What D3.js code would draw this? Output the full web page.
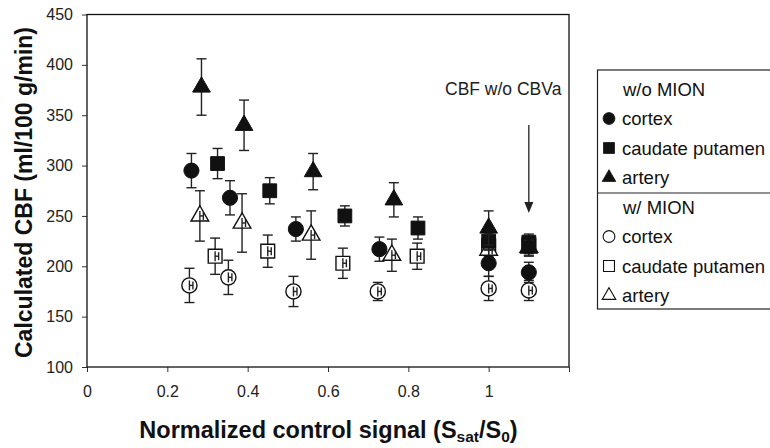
<!DOCTYPE html>
<html>
<head>
<meta charset="utf-8">
<script src="https://d3js.org/d3.v7.min.js"></script>
<style>
  body { margin: 0; background: #fff; }
  svg { display: block; font-family: "Liberation Sans", Arial, sans-serif; }
  .tick line { stroke: #333; }
  .tick text { font-size: 16px; fill: #222; }
</style>
</head>
<body>
<svg id="chart" width="770" height="448"></svg>
<script>
// x ticks
const xTicks = [0, 0.2, 0.4, 0.6, 0.8, 1, 1.2];
const xTickLabels = ["0", "0.2", "0.4", "0.6", "0.8", "1", ""];
const yTicks = [100, 150, 200, 250, 300, 350, 400, 450];

// w/o MION (filled markers)
const cortexX = [0.26, 0.356, 0.52, 0.728, 1.0, 1.1];
const cortexY = [295, 268, 237, 217, 203, 194];
const cortexErr = [17, 17, 12, 12, 13, 10];

const putamenX = [0.325, 0.455, 0.642, 0.824, 1.0, 1.1];
const putamenY = [302, 275, 250, 238, 225, 224];
const putamenErr = [15, 13, 10, 11, 8, 8];

const arteryX = [0.285, 0.391, 0.563, 0.764, 1.0, 1.1];
const arteryY = [378, 340, 294, 266, 238, 218];
const arteryErr = [28, 25, 18, 17, 17, 8];

// w/ MION (open markers)
const mCortexX = [0.255, 0.352, 0.514, 0.724, 1.0, 1.1];
const mCortexY = [181, 189, 175, 175, 178, 176];
const mCortexErr = [17, 17, 15, 9, 12, 10];

const mPutamenX = [0.319, 0.45, 0.637, 0.822, 1.0, 1.1];
const mPutamenY = [210, 215, 203, 210, 220, 221];
const mPutamenErr = [18, 16, 15, 13, 10, 8];

const mArteryX = [0.281, 0.386, 0.558, 0.759, 1.0, 1.1];
const mArteryY = [250, 243, 231, 211, 216, 219];
const mArteryErr = [25, 29, 24, 16, 12, 8];

const legendRows = ["w/o MION", "cortex", "caudate putamen", "artery",
                    "w/ MION", "cortex", "caudate putamen", "artery"];

const svg = d3.select("#chart");
const plot = { left: 87, right: 569, top: 14.5, bottom: 367 };

const x = d3.scaleLinear().domain([0, 1.2]).range([plot.left, plot.right]);
const y = d3.scaleLinear().domain([100, 450]).range([plot.bottom, plot.top]);

// axes
const xAxis = d3.axisBottom(x)
  .tickValues(xTicks)
  .tickFormat((d, i) => xTickLabels[i])
  .tickSize(5)
  .tickPadding(14);
svg.append("g")
  .attr("transform", `translate(0,${plot.bottom})`)
  .call(xAxis)
  .call(g => g.select(".domain").remove());

const yAxis = d3.axisLeft(y)
  .tickValues(yTicks)
  .tickSize(5)
  .tickPadding(9);
svg.append("g")
  .attr("transform", `translate(${plot.left},0)`)
  .call(yAxis)
  .call(g => g.select(".domain").remove());

// plot frame
svg.append("rect")
  .attr("x", plot.left)
  .attr("y", plot.top)
  .attr("width", plot.right - plot.left)
  .attr("height", plot.bottom - plot.top)
  .attr("fill", "none")
  .attr("stroke", "#111")
  .attr("stroke-width", 1.3);

// symbols
const shapes = {
  circle: d3.symbol().type(d3.symbolCircle).size(180),
  square: d3.symbol().type(d3.symbolSquare).size(190),
  triangle: d3.symbol().type(d3.symbolTriangle).size(135)
};

function drawSeries(xs, ys, errs, shape, filled) {
  const data = xs.map((v, i) => ({ x: v, y: ys[i], e: errs[i] }));
  const g = svg.append("g");
  const cap = 5;

  // error bars
  const bars = g.selectAll("g.err").data(data).join("g").attr("class", "err")
    .attr("stroke", "#222").attr("stroke-width", 1.4);
  bars.append("line")
    .attr("x1", d => x(d.x)).attr("x2", d => x(d.x))
    .attr("y1", d => y(d.y + d.e)).attr("y2", d => y(d.y - d.e));
  bars.append("line")
    .attr("x1", d => x(d.x) - cap).attr("x2", d => x(d.x) + cap)
    .attr("y1", d => y(d.y + d.e)).attr("y2", d => y(d.y + d.e));
  bars.append("line")
    .attr("x1", d => x(d.x) - cap).attr("x2", d => x(d.x) + cap)
    .attr("y1", d => y(d.y - d.e)).attr("y2", d => y(d.y - d.e));

  // markers
  g.selectAll("path.mk").data(data).join("path").attr("class", "mk")
    .attr("d", shapes[shape])
    .attr("transform", d => `translate(${x(d.x)},${y(d.y)})`)
    .attr("fill", filled ? "#111" : "#fff")
    .attr("stroke", "#111")
    .attr("stroke-width", filled ? 1 : 1.4);

  // open markers show the bar running through them like a small "H"
  if (!filled) {
    const h = g.selectAll("g.h").data(data).join("g").attr("class", "h")
      .attr("stroke", "#222").attr("stroke-width", 1.4);
    h.append("line")
      .attr("x1", d => x(d.x)).attr("x2", d => x(d.x))
      .attr("y1", d => y(d.y) - 5).attr("y2", d => y(d.y) + 5);
    h.append("line")
      .attr("x1", d => x(d.x) + 3.5).attr("x2", d => x(d.x) + 3.5)
      .attr("y1", d => y(d.y) - 4).attr("y2", d => y(d.y) + 4);
    h.append("line")
      .attr("x1", d => x(d.x)).attr("x2", d => x(d.x) + 3.5)
      .attr("y1", d => y(d.y)).attr("y2", d => y(d.y));
  }
}

// open series underneath, filled on top
drawSeries(mCortexX, mCortexY, mCortexErr, "circle", false);
drawSeries(mPutamenX, mPutamenY, mPutamenErr, "square", false);
drawSeries(mArteryX, mArteryY, mArteryErr, "triangle", false);
drawSeries(cortexX, cortexY, cortexErr, "circle", true);
drawSeries(putamenX, putamenY, putamenErr, "square", true);
drawSeries(arteryX, arteryY, arteryErr, "triangle", true);

// annotation + arrow
svg.append("text")
  .attr("x", 445).attr("y", 95)
  .attr("font-size", 17.5).attr("fill", "#222")
  .text("CBF w/o CBVa");
const ax = x(1.1);
svg.append("line")
  .attr("x1", ax).attr("x2", ax).attr("y1", 125).attr("y2", 205)
  .attr("stroke", "#222").attr("stroke-width", 1.3);
svg.append("path")
  .attr("d", `M${ax - 4.5},202 L${ax + 4.5},202 L${ax},213 Z`)
  .attr("fill", "#222");

// axis titles
svg.append("text")
  .attr("transform", "translate(32,192.5) rotate(-90)")
  .attr("text-anchor", "middle")
  .attr("font-size", 23).attr("font-weight", "bold").attr("fill", "#111")
  .text("Calculated CBF (ml/100 g/min)");

const xt = svg.append("text")
  .attr("x", 328.5).attr("y", 438)
  .attr("text-anchor", "middle")
  .attr("font-size", 23.5).attr("font-weight", "bold").attr("fill", "#111");
xt.append("tspan").text("Normalized control signal (S");
xt.append("tspan").attr("font-size", 15.5).attr("dy", 4).text("sat");
xt.append("tspan").attr("dy", -4).text("/S");
xt.append("tspan").attr("font-size", 15.5).attr("dy", 4).text("0");
xt.append("tspan").attr("dy", -4).text(")");

// legend
const lg = svg.append("g");
lg.append("rect")
  .attr("x", 597.5).attr("y", 70).attr("width", 220).attr("height", 239)
  .attr("fill", "none").attr("stroke", "#222").attr("stroke-width", 1.2);
lg.append("line")
  .attr("x1", 597.5).attr("x2", 800).attr("y1", 193).attr("y2", 193)
  .attr("stroke", "#222").attr("stroke-width", 1.2);

const legendShapes = [null, "circle", "square", "triangle", null, "circle", "square", "triangle"];
const legendSym = {
  circle: d3.symbol().type(d3.symbolCircle).size(110),
  square: d3.symbol().type(d3.symbolSquare).size(120),
  triangle: d3.symbol().type(d3.symbolTriangle).size(80)
};
legendRows.forEach((label, i) => {
  const cy = 89 + i * 29.5;
  const shp = legendShapes[i];
  if (shp) {
    lg.append("path")
      .attr("d", legendSym[shp])
      .attr("transform", `translate(609,${cy})`)
      .attr("fill", i < 4 ? "#111" : "#fff")
      .attr("stroke", "#111")
      .attr("stroke-width", i < 4 ? 0.8 : 1.1);
  }
  lg.append("text")
    .attr("x", shp ? 622 : 623).attr("y", cy + 6.5)
    .attr("font-size", 18.5).attr("fill", "#111")
    .text(label);
});
</script>
</body>
</html>
